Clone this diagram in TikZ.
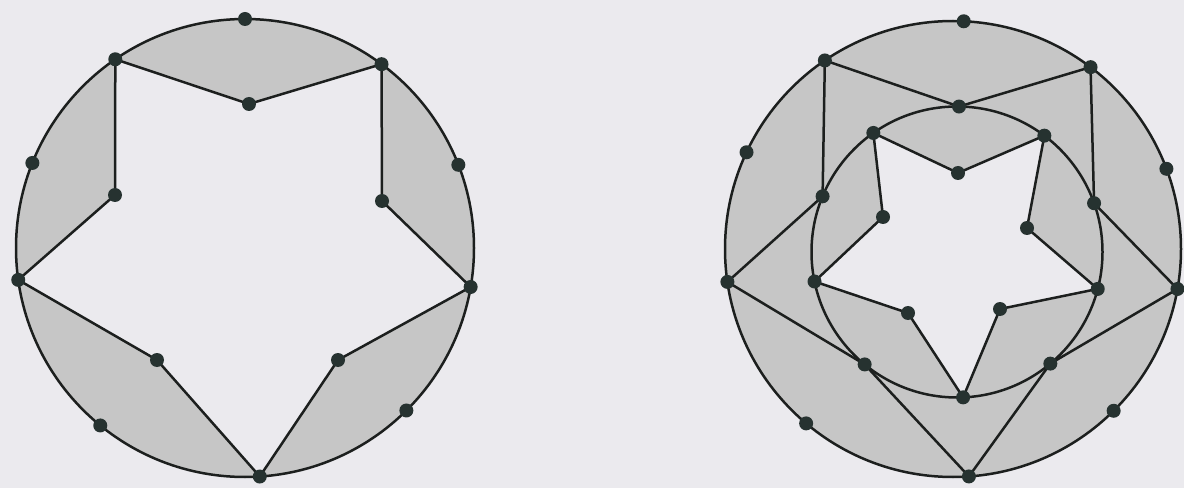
\documentclass[tikz,border=0pt]{standalone}
\usetikzlibrary{calc}
\definecolor{bgc}{HTML}{EBEAEE}
\definecolor{fillc}{HTML}{C6C6C6}
\definecolor{linec}{HTML}{1C1F1E}
\definecolor{dotc}{HTML}{263230}
\begin{document}
\begin{tikzpicture}[x=1pt,y=1pt,
  edge/.style={draw=linec,line width=2.5pt,line join=round},
  dot/.style={circle,fill=dotc,inner sep=0pt,minimum size=14pt}]
\fill[bgc] (0,0) rectangle (1184,488);
\useasboundingbox (0,0) rectangle (1184,488);

% ---------------- left figure ----------------
\coordinate (LC) at (245,240);
\foreach \n/\a in {T/90, A1/124.5, A2/53.4, M1/158.2, M2/21.3, A5/188, A3/350.2, M4/230.8, M3/314.8, A4/273.7}
  \coordinate (L\n) at ($(LC)+(\a:229pt)$);
\coordinate (LB1) at (249,384);
\coordinate (LB5) at (115,293);
\coordinate (LB2) at (382,287);
\coordinate (LB4) at (157,128);
\coordinate (LB3) at (338,128);

\fill[fillc] (LC) circle[radius=229pt];
\fill[bgc] (LA1)--(LB1)--(LA2)--(LB2)--(LA3)--(LB3)--(LA4)--(LB4)--(LA5)--(LB5)--cycle;
\draw[edge] (LC) circle[radius=229pt];
\draw[edge] (LA1)--(LB1)--(LA2)--(LB2)--(LA3)--(LB3)--(LA4)--(LB4)--(LA5)--(LB5)--cycle;
\foreach \p in {T,A1,A2,A3,A4,A5,M1,M2,M3,M4,B1,B2,B3,B4,B5}
  \node[dot] (dL\p) at (L\p) {};

% ---------------- right figure ----------------
\coordinate (RC) at (953,239);
\coordinate (RI) at (957,236);
\foreach \n/\a in {T/87.3, A1/124.2, A2/52.9, M1/154.9, M2/20.6, A5/188.3, A3/349.9, M4/229.9, M3/314.8, A4/274}
  \coordinate (R\n) at ($(RC)+(\a:228pt)$);
\foreach \n/\a in {B1/89.2, B5/157.5, B2/19.6, B4/230.6, B3/309.9, C1/125.1, C2/53.1, C5/191.7, C3/345.3, C4/272.4}
  \coordinate (R\n) at ($(RI)+(\a:145.5pt)$);
\coordinate (RD1) at (958,315);
\coordinate (RD5) at (883,271);
\coordinate (RD2) at (1027,260);
\coordinate (RD4) at (908,175);
\coordinate (RD3) at (1000,179);

\fill[fillc] (RC) circle[radius=228pt];
\fill[bgc] (RC1)--(RD1)--(RC2)--(RD2)--(RC3)--(RD3)--(RC4)--(RD4)--(RC5)--(RD5)--cycle;
\draw[edge] (RC) circle[radius=228pt];
\draw[edge] (RI) circle[radius=145.5pt];
\draw[edge] (RA1)--(RB1)--(RA2)--(RB2)--(RA3)--(RB3)--(RA4)--(RB4)--(RA5)--(RB5)--cycle;
\draw[edge] (RC1)--(RD1)--(RC2)--(RD2)--(RC3)--(RD3)--(RC4)--(RD4)--(RC5)--(RD5)--cycle;
\foreach \p in {T,A1,A2,A3,A4,A5,M1,M2,M3,M4,B1,B2,B3,B4,B5,C1,C2,C3,C4,C5,D1,D2,D3,D4,D5}
  \node[dot] (dR\p) at (R\p) {};
\end{tikzpicture}
\end{document}
